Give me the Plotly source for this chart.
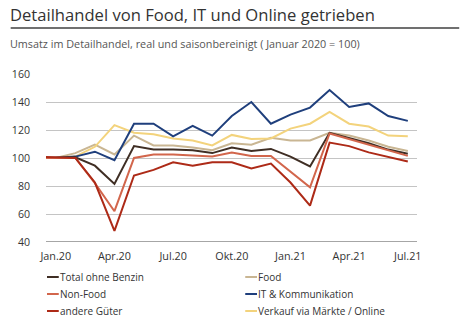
import plotly.graph_objects as go

# Monthly index values (January 2020 = 100); the first entry (Dez.19) lies left of the visible range
months = ["Dez.19", "Jan.20", "Feb.20", "Mär.20", "Apr.20", "Mai.20", "Jun.20", "Jul.20",
          "Aug.20", "Sep.20", "Okt.20", "Nov.20", "Dez.20", "Jan.21", "Feb.21", "Mär.21",
          "Apr.21", "Mai.21", "Jun.21", "Jul.21"]
tick_labels = ["Jan.20", "Apr.20", "Jul.20", "Okt.20", "Jan.21", "Apr.21", "Jul.21"]

total_ohne_benzin = [100, 100, 100.5, 94.5, 81.5, 108.5, 106, 106, 105.5, 103.5, 107.5, 105,
                     106.5, 101, 94, 118, 114.5, 110.5, 106, 103]
food = [100, 100, 103.5, 109.5, 102.5, 116, 109, 109, 107.5, 105.5, 110.5, 109.5,
        114.5, 112.5, 112.5, 118, 116, 112.5, 108, 105]
non_food = [100, 100, 100, 82, 62, 100, 102.5, 102.5, 101.5, 101, 104, 101.5,
            101.5, 90.5, 79, 117.5, 113.5, 109, 105, 101.5]
it_kommunikation = [100, 100, 101, 104.5, 98.5, 124.5, 124.5, 115.5, 123, 116, 130, 140,
                    124.5, 131, 136, 148.5, 136.5, 139, 130, 126.5]
andere_gueter = [101, 100.5, 100, 82.5, 48, 87.5, 91.5, 97, 94.5, 97, 97, 92.5,
                 96, 82.5, 66, 111, 108.5, 104, 101, 97.5]
online = [100, 100, 101, 108, 123.5, 118, 117, 114, 112.5, 109, 116.5, 113.5,
          114, 121, 124.5, 133, 124.5, 122.5, 116, 115.5]

series_names = ["Total ohne Benzin", "Food", "Non-Food", "IT & Kommunikation",
                "andere Güter", "Verkauf via Märkte / Online"]
series_values = [total_ohne_benzin, food, non_food, it_kommunikation, andere_gueter, online]
series_colors = ["#3f2e24", "#c9b693", "#d2664c", "#1f3f7c", "#ad2a17", "#f3d37c"]

# drawing order: back to front
draw_order = [1, 5, 3, 0, 2, 4]

FONT = "Open Sans"

fig = go.Figure()
for i in draw_order:
    fig.add_trace(go.Scatter(
        x=months, y=series_values[i], mode="lines", name=series_names[i],
        line=dict(color=series_colors[i], width=2), showlegend=False,
    ))

fig.update_layout(
    width=460, height=326,
    margin=dict(l=39, r=43, t=74, b=84),
    paper_bgcolor="white", plot_bgcolor="white",
    font=dict(family=FONT, size=11, color="#333333"),
    showlegend=False,
)

fig.update_xaxes(
    type="category", range=[0.5, 19.47],
    tickmode="array", tickvals=tick_labels, ticktext=tick_labels,
    showgrid=False, showline=False, zeroline=False, ticks="",
    ticklabelstandoff=6, tickfont=dict(size=10.8, color="#333333"),
)
fig.update_yaxes(
    range=[40, 160], tickvals=[40, 60, 80, 100, 120, 140, 160],
    showgrid=True, gridcolor="#c4c4c4", gridwidth=1.3,
    zeroline=False, showline=False, ticks="",
    ticklabelstandoff=15, tickfont=dict(size=10.6, color="#333333"),
)

# darker baseline at the bottom of the value axis
fig.add_shape(type="line", xref="paper", yref="y", x0=0, x1=1, y0=40, y1=40,
              line=dict(color="#a6a6a6", width=2))

# title, rule and subtitle
fig.add_annotation(text="Detailhandel von Food, IT und Online getrieben",
                   xref="paper", yref="paper", x=-39 / 378, y=1 + (74 - 15) / 168,
                   xanchor="left", yanchor="middle", showarrow=False,
                   font=dict(family=FONT, size=16.6, color="#333333"))
fig.add_shape(type="line", xref="paper", yref="paper",
              x0=-36 / 378, x1=(460 - 39) / 378,
              y0=1 + (74 - 28) / 168, y1=1 + (74 - 28) / 168,
              line=dict(color="#404040", width=1.6))
fig.add_annotation(text="Umsatz im Detailhandel, real und saisonbereinigt ( Januar 2020 = 100)",
                   xref="paper", yref="paper", x=-39 / 378, y=1 + (74 - 43) / 168,
                   xanchor="left", yanchor="middle", showarrow=False,
                   font=dict(family=FONT, size=10.8, color="#555555"))

# legend: two columns, three rows, short line keys
col_x = [40, 242]
row_y = [277, 294, 311]
for k in range(len(series_names)):
    cx = col_x[k % 2]
    ry = row_y[k // 2]
    yp = (326 - 84 - ry) / 168
    fig.add_shape(type="line", xref="paper", yref="paper",
                  x0=(cx - 39) / 378, x1=(cx + 12 - 39) / 378, y0=yp, y1=yp,
                  line=dict(color=series_colors[k], width=2))
    fig.add_annotation(text=series_names[k], xref="paper", yref="paper",
                       x=(cx + 11 - 39) / 378, y=yp, xanchor="left", yanchor="middle",
                       showarrow=False, font=dict(family=FONT, size=10.0, color="#333333"))

fig.write_html("out.html")
